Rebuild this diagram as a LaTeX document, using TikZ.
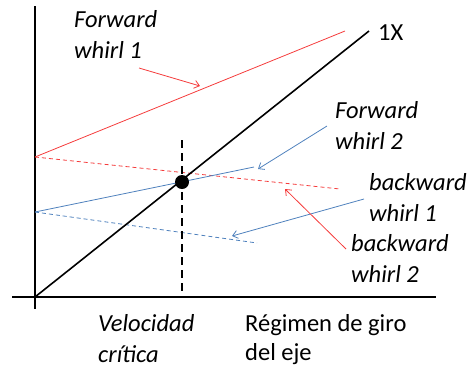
\documentclass[tikz,border=0pt]{standalone}
\usepackage{fontspec}
\setmainfont{Carlito}
\usetikzlibrary{arrows.meta}
\definecolor{lred}{RGB}{245,60,60}
\definecolor{lblue}{RGB}{79,129,189}
\tikzset{
  axisline/.style={line width=1.6pt,black},
  redline/.style={line width=0.8pt,lred},
  blueline/.style={line width=0.8pt,lblue},
  dashline/.style={dash pattern=on 4pt off 3pt},
  pointer/.style={-{Straight Barb[length=5pt,width=8pt]}},
  lab/.style={font=\fontsize{24.5}{31}\selectfont\itshape,align=left,anchor=base west,inner sep=0pt},
  ulab/.style={font=\fontsize{24.5}{29}\selectfont,align=left,anchor=base west,inner sep=0pt},
}
\begin{document}
\begin{tikzpicture}[x=1pt,y=-1pt]
\useasboundingbox (0,0) rectangle (474,368);
% coordinates
\coordinate (ytop) at (35,6);
\coordinate (ybot) at (35,309);
\coordinate (xl) at (12,297);
\coordinate (xr) at (436,297);
\coordinate (o) at (35,297);
\coordinate (onex) at (369,31);
\coordinate (r0) at (35,157);
\coordinate (r1) at (345,31);
\coordinate (r2) at (340,189);
\coordinate (b0) at (35,212);
\coordinate (b1) at (254,167);
\coordinate (b2) at (257,243);
\coordinate (dtop) at (182,140);
\coordinate (dbot) at (182,297);
% axes
\draw[axisline] (ytop) -- (ybot);
\draw[axisline] (xl) -- (xr);
% lines
\draw[redline] (r0) -- (r1);
\draw[redline,dashline] (r0) -- (r2);
\draw[blueline] (b0) -- (b1);
\draw[blueline,dashline] (b0) -- (b2);
\draw[line width=1.6pt] (o) -- (onex);
\draw[line width=2.2pt,dash pattern=on 8pt off 5pt] (dtop) -- (dbot);
\node[circle,fill=black,minimum size=14pt,inner sep=0pt] (dot) at (182,182) {};
% pointers
\coordinate (p1s) at (139,68);
\coordinate (p1e) at (200,86);
\draw[redline,pointer] (p1s) -- (p1e);
\coordinate (p2s) at (327,126);
\coordinate (p2e) at (258,169);
\draw[blueline,pointer] (p2s) -- (p2e);
\coordinate (p3s) at (364,199);
\coordinate (p3e) at (232,236);
\draw[blueline,pointer] (p3s) -- (p3e);
\coordinate (p4s) at (346,249);
\coordinate (p4e) at (285,189);
\draw[redline,pointer] (p4s) -- (p4e);
% labels
\node[lab] (fw1) at (74,58) {Forward\\whirl 1};
\node[ulab] (onexl) at (378,40) {1X};
\node[lab] (fw2) at (335,149) {Forward\\whirl 2};
\node[lab] (bw1) at (369,221) {backward\\whirl 1};
\node[lab] (bw2) at (351,282) {backward\\whirl 2};
\node[lab] (vc) at (98,362) {Velocidad\\crítica};
\node[ulab] (rg) at (245,360) {Régimen de giro\\del eje};
\end{tikzpicture}
\end{document}
